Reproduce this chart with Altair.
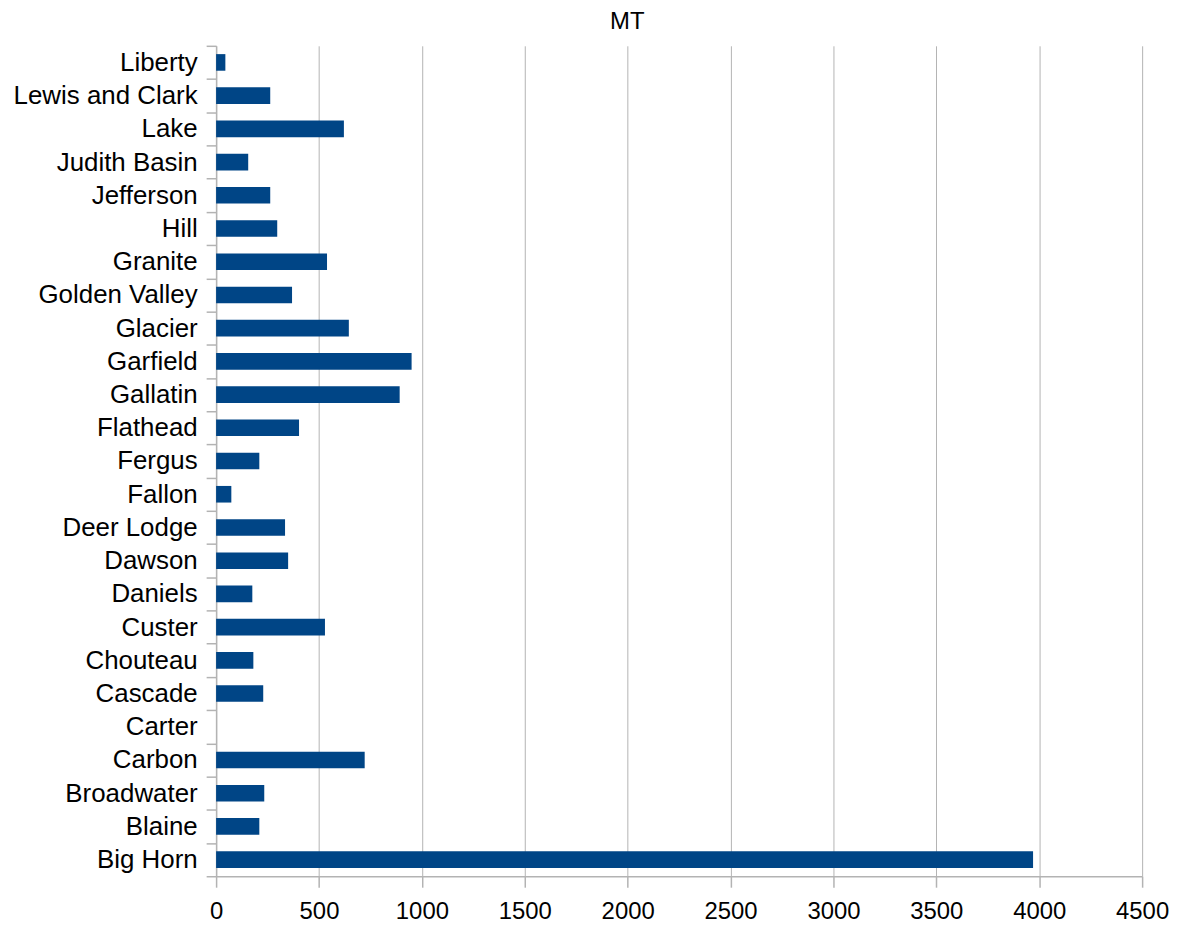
import altair as alt
import pandas as pd

counties = ["Big Horn", "Blaine", "Broadwater", "Carbon", "Carter", "Cascade",
            "Chouteau", "Custer", "Daniels", "Dawson", "Deer Lodge", "Fallon",
            "Fergus", "Flathead", "Gallatin", "Garfield", "Glacier",
            "Golden Valley", "Granite", "Hill", "Jefferson", "Judith Basin",
            "Lake", "Lewis and Clark", "Liberty"]
values = [3970, 210, 234, 722, 0, 229,
          181, 529, 176, 350, 335, 74,
          210, 403, 892, 950, 645,
          369, 539, 297, 263, 156,
          621, 263, 45]
x_ticks = [0, 500, 1000, 1500, 2000, 2500, 3000, 3500, 4000, 4500]

df = pd.DataFrame({"county": counties, "value": values})

chart = alt.Chart(df).mark_bar(
    color="#004586", height=alt.RelativeBandSize(0.5)
).encode(
    x=alt.X("value:Q",
            scale=alt.Scale(domain=[0, 4500], nice=False, zero=True),
            axis=alt.Axis(title=None, values=x_ticks, grid=True, format="d",
                          gridColor="#b3b3b3", gridWidth=1,
                          domainColor="#b3b3b3", domainWidth=1.5,
                          tickColor="#b3b3b3", tickSize=11, tickWidth=1.5,
                          labelFontSize=24, labelColor="#000000",
                          labelFont="Liberation Sans", labelPadding=12,
                          labelFlush=False)),
    y=alt.Y("county:N", sort=counties[::-1],
            scale=alt.Scale(paddingInner=0, paddingOuter=0),
            axis=alt.Axis(title=None, grid=False, tickBand="extent",
                          domainColor="#b3b3b3", domainWidth=1.5,
                          tickColor="#b3b3b3", tickSize=10, tickWidth=1.5,
                          labelFontSize=26, labelColor="#000000",
                          labelFont="Liberation Sans", labelPadding=9,
                          labelLimit=400)),
).properties(
    width=930, height=834,
    title=alt.TitleParams("MT", fontSize=24, font="Liberation Sans",
                          fontWeight="normal", color="#000000",
                          anchor="middle", dx=-52, offset=16, dy=17),
    autosize=alt.AutoSizeParams(type="none"),
    padding={"left": 209, "top": 36, "right": 30, "bottom": 50},
).configure_view(stroke=None)

chart.save("out.html", embed_options={"renderer": "svg", "actions": False})
